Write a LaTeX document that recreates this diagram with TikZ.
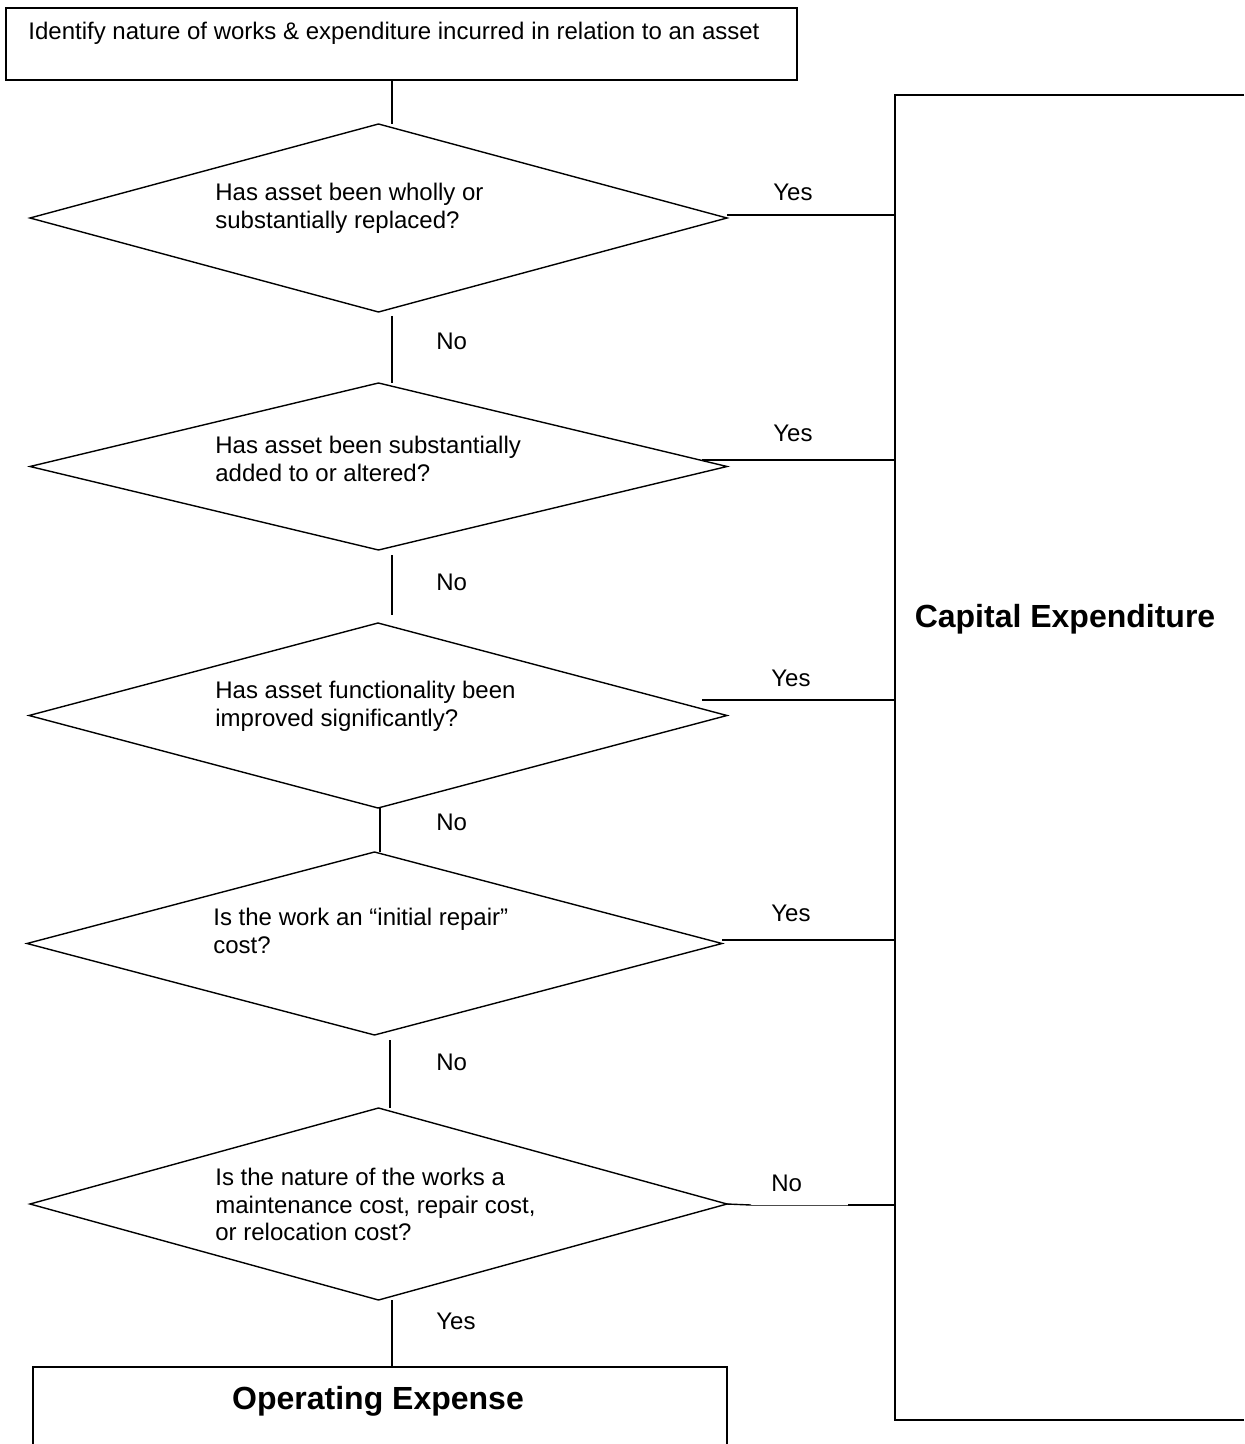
\documentclass[tikz,border=0pt]{standalone}
\usepackage{fontspec}
\setmainfont{Liberation Sans}
\usetikzlibrary{shapes.geometric}
\tikzset{
  ln/.style={line width=0.7pt},
  capline/.style={line width=1.1pt},
  dia/.style={diamond, draw, line width=0.7pt, inner sep=0pt, outer sep=0pt},
  txt/.style={inner sep=0pt, anchor=base west, font=\fontsize{12pt}{14pt}\selectfont},
  big/.style={inner sep=0pt, anchor=base, font=\fontsize{16pt}{18pt}\selectfont\bfseries},
  boxshape/.style={rectangle, inner sep=0pt, outer sep=0pt, anchor=north west},
}
\begin{document}
\begin{tikzpicture}[x=0.5pt,y=-0.5pt]
\useasboundingbox (0,0) rectangle (1244,1444);
\fill[white] (0,0) rectangle (1244,1444);

% top box
\node[boxshape, draw, ln, minimum width=395.5pt, minimum height=36pt] (top) at (6,8) {};
\node[txt] (toptext) at (28,40) {Identify nature of works \& expenditure incurred in relation to an asset};

% capital expenditure box (cut at right edge)
\node[boxshape, minimum width=174.5pt, minimum height=662.5pt] (cap) at (895,95) {};
\draw[capline] (cap.north east) -- (cap.north west) -- (cap.south west) -- (cap.south east);
\node[big] (captext) at (1065,627) {Capital Expenditure};

% operating expense box (cut at bottom edge)
\node[boxshape, minimum width=347pt, minimum height=38.5pt] (op) at (33,1367) {};
\draw[ln] (op.south west) -- (op.north west) -- (op.north east) -- (op.south east);
\node[big] (optext) at (378,1409) {Operating Expense};

% diamonds
\node[dia, minimum width=348.5pt, minimum height=94pt] (d1) at (378.5,218) {};
\node[dia, minimum width=348.5pt, minimum height=83.5pt] (d2) at (378.5,466.5) {};
\node[dia, minimum width=349pt, minimum height=92.5pt] (d3) at (378,715.5) {};
\node[dia, minimum width=347.5pt, minimum height=91.5pt] (d4) at (374.5,943.5) {};
\node[dia, minimum width=348.5pt, minimum height=96pt] (d5) at (378.5,1204) {};

% diamond texts
\node[txt] (d1a) at (215,201) {Has asset been wholly or};
\node[txt] (d1b) at (215,229) {substantially replaced?};
\node[txt] (d2a) at (215,453) {Has asset been substantially};
\node[txt] (d2b) at (215,481) {added to or altered?};
\node[txt] (d3a) at (215,698) {Has asset functionality been};
\node[txt] (d3b) at (215,726) {improved significantly?};
\node[txt] (d4a) at (213,925) {Is the work an “initial repair”};
\node[txt] (d4b) at (213,953) {cost?};
\node[txt] (d5a) at (215,1185) {Is the nature of the works a};
\node[txt] (d5b) at (215,1213) {maintenance cost, repair cost,};
\node[txt] (d5c) at (215,1240) {or relocation cost?};

% vertical connectors
\coordinate (v392) at (392,0);
\coordinate (v380) at (380,0);
\coordinate (v390) at (390,0);
\draw[ln] (v392 |- top.south) -- (v392 |- d1.north);
\draw[ln, shorten <=2pt] (v392 |- d1.south) -- (v392 |- d2.north);
\draw[ln, shorten <=2.5pt, shorten >=4pt] (v392 |- d2.south) -- (v392 |- d3.north);
\draw[ln] (v380 |- d3.south) -- (v380 |- d4.north);
\draw[ln, shorten <=2.5pt] (v390 |- d4.south) -- (v390 |- d5.north);
\draw[ln] (v392 |- d5.south) -- (v392 |- op.north);

% horizontal connectors to capital expenditure
\coordinate (y1s) at (727,215);
\coordinate (y2s) at (702,460);
\coordinate (y3s) at (702,700);
\coordinate (y4s) at (722,940);
\draw[ln] (y1s) -- (y1s -| cap.west);
\draw[ln] (y2s) -- (y2s -| cap.west);
\draw[ln] (y3s) -- (y3s -| cap.west);
\draw[ln] (y4s) -- (y4s -| cap.west);
\coordinate (n5a) at (751,1205);
\coordinate (n5b) at (848,1205);
\draw[ln] (d5.east) -- (n5a);
\draw[line width=0.4pt, black!70] (n5a) -- (n5b);
\draw[ln] (n5b) -- (n5b -| cap.west);

% labels
\node[txt] (yes1) at (773,201) {Yes};
\node[txt] (yes2) at (773,441) {Yes};
\node[txt] (yes3) at (771,686) {Yes};
\node[txt] (yes4) at (771,921) {Yes};
\node[txt] (no5) at (771,1191) {No};
\node[txt] (no1) at (436,350) {No};
\node[txt] (no2) at (436,590) {No};
\node[txt] (no3) at (436,830) {No};
\node[txt] (no4) at (436,1070) {No};
\node[txt] (yes5) at (436,1329) {Yes};
\end{tikzpicture}
\end{document}
